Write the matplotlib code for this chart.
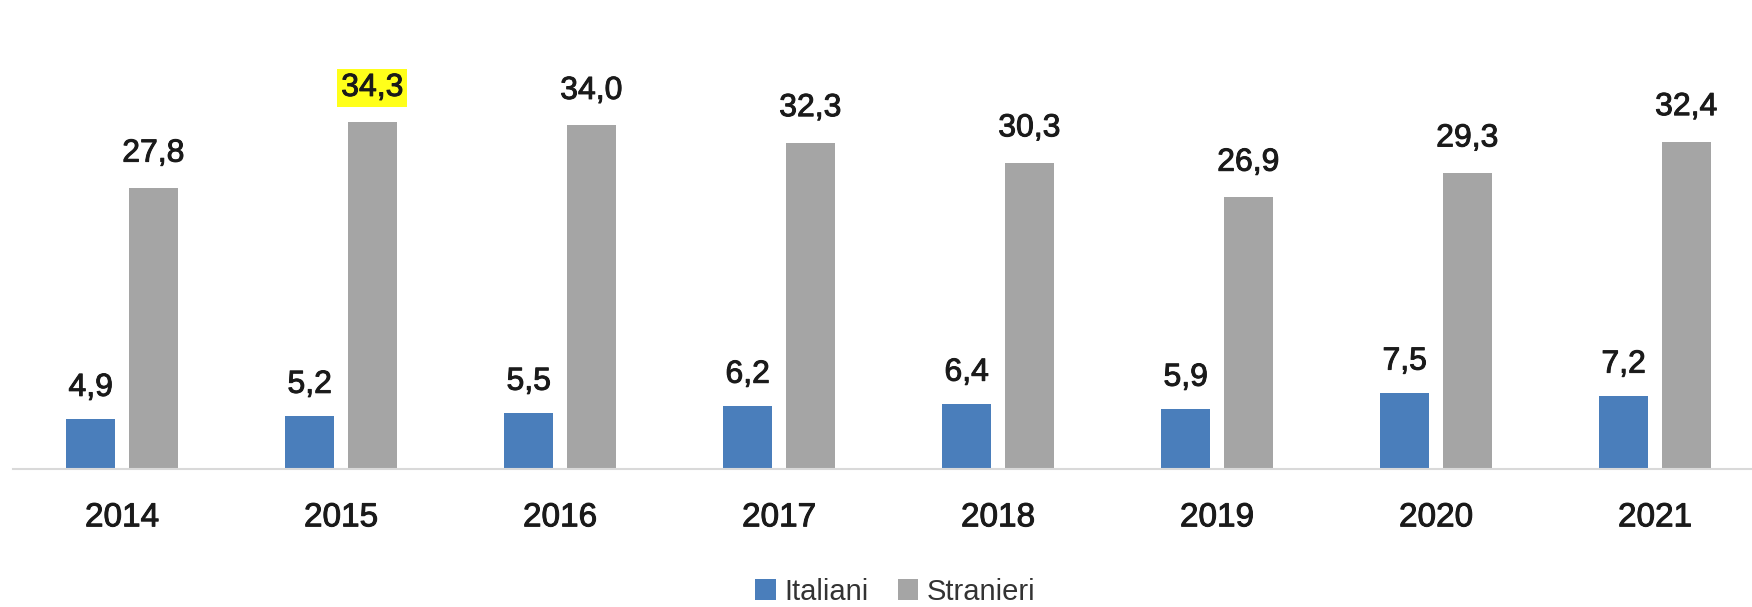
import matplotlib
matplotlib.use("Agg")
import matplotlib.pyplot as plt
import matplotlib.patheffects as pe
import numpy as np

plt.rcParams['font.family'] = ['Liberation Sans Narrow', 'Liberation Sans', 'DejaVu Sans']

anni = ['2014', '2015', '2016', '2017', '2018', '2019', '2020', '2021']
italiani = [4.9, 5.2, 5.5, 6.2, 6.4, 5.9, 7.5, 7.2]
stranieri = [27.8, 34.3, 34.0, 32.3, 30.3, 26.9, 29.3, 32.4]
evidenziato = 1  # index of the highlighted value (Stranieri 2015)

col_ita = '#4A7EBB'
col_str = '#A5A5A5'
col_txt = '#1A1A1A'
spessore = [pe.withStroke(linewidth=0.7, foreground=col_txt)]

fig = plt.figure(figsize=(17.52, 6.07), dpi=100)
ax = fig.add_axes([13 / 1752, 1 - 469 / 607, 1 - 13 / 1752, 469 / 607])

x = np.arange(len(anni))
w = 0.224
off = 0.143
b1 = ax.bar(x - off, italiani, w, color=col_ita, label='Italiani')
b2 = ax.bar(x + off, stranieri, w, color=col_str, label='Stranieri')

for i, v in enumerate(italiani):
    ax.annotate(f"{v:.1f}".replace('.', ','), (x[i] - off, v), xytext=(0, 17),
                textcoords='offset points', ha='center', va='baseline', fontsize=23,
                color=col_txt, path_effects=spessore)
for i, v in enumerate(stranieri):
    t = ax.annotate(f"{v:.1f}".replace('.', ','), (x[i] + off, v), xytext=(0, 19),
                    textcoords='offset points', ha='center', va='baseline', fontsize=23,
                    color=col_txt, path_effects=spessore)
    if i == evidenziato:
        t.set_bbox(dict(boxstyle='square,pad=0.12', facecolor='#FFFF1A', edgecolor='none'))

ax.set_xlim(-0.498, 7.443)
ax.set_ylim(0, 46.4)
ax.set_xticks(x)
ax.set_xticklabels(anni, fontsize=24, color=col_txt)
for lab in ax.get_xticklabels():
    lab.set_path_effects(spessore)
ax.tick_params(axis='x', length=0, pad=24)
ax.set_yticks([])
for s in ['top', 'left', 'right']:
    ax.spines[s].set_visible(False)
ax.spines['bottom'].set_color('#D9D9D9')
ax.spines['bottom'].set_linewidth(1.5)

leg = fig.legend(handles=[b1, b2], loc='center', bbox_to_anchor=(0.511, 0.025), ncol=2,
                 frameon=False, fontsize=21, handlelength=0.7, handleheight=0.7,
                 handletextpad=0.3, columnspacing=1.0)
for t in leg.get_texts():
    t.set_color('#333333')

fig.savefig('out.png', dpi=100)
